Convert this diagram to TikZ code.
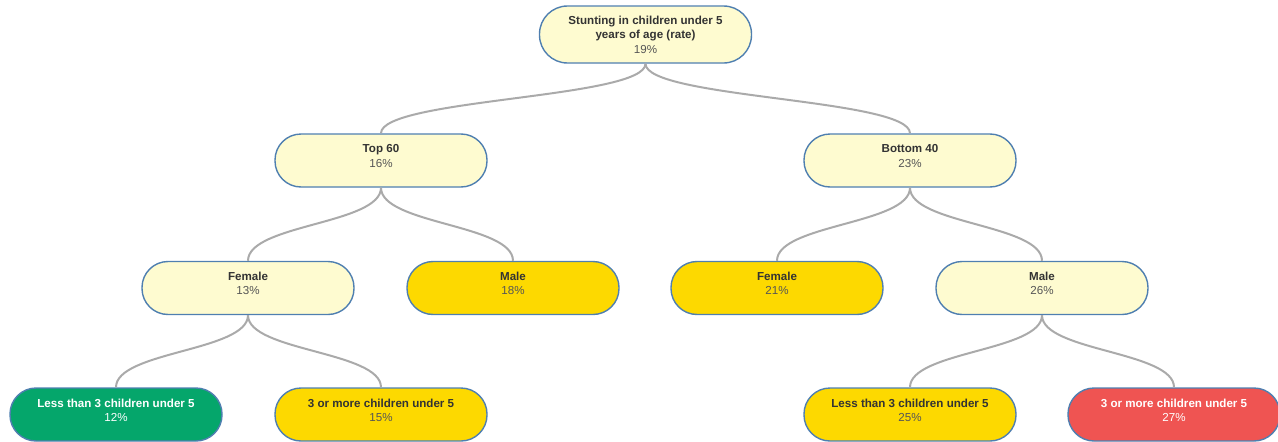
\documentclass[tikz,border=0pt]{standalone}
\usepackage{fontspec}
\setmainfont{Liberation Sans}
\usetikzlibrary{calc}

\definecolor{paleyellow}{HTML}{FEFBD0}
\definecolor{gold}{HTML}{FDD900}
\definecolor{goodgreen}{HTML}{05A66B}
\definecolor{badred}{HTML}{EF5452}
\definecolor{edgeblue}{HTML}{4F7FB0}
\definecolor{linkgray}{HTML}{AAAAAA}
\definecolor{titlegray}{HTML}{333333}
\definecolor{valuegray}{HTML}{555555}

\tikzset{
  pill/.style={draw=edgeblue, line width=1.4pt, rounded corners=26pt,
    minimum width=212pt, minimum height=53pt, align=center, inner sep=2pt,
    text depth=9pt, font=\fontsize{11.6}{14.2}\selectfont},
  neutral/.style={pill, fill=paleyellow},
  warn/.style={pill, fill=gold},
  good/.style={pill, fill=goodgreen, text=white},
  bad/.style={pill, fill=badred, text=white},
  link/.style={draw=linkgray, line width=2pt},
}
% vertical S-shaped tree link between two nodes
\newcommand{\treelink}[2]{%
  \path ($(#1.south)!0.5!(#2.north)$) coordinate (mid#1#2);
  \draw[link] (#1.south) .. controls (#1.south |- mid#1#2) and (#2.north |- mid#1#2) .. (#2.north);}

\begin{document}
\begin{tikzpicture}[x=1pt, y=-1pt]
\useasboundingbox (0,0) rectangle (1278,442);

% level 0
\node[neutral, minimum height=57pt, rounded corners=28pt, text depth=0pt,
  font=\fontsize{11.6}{14.6}\selectfont, text=titlegray] (root) at (645.5,34.5)
  {\textbf{Stunting in children under 5}\\\textbf{years of age (rate)}\\\textcolor{valuegray}{19\%}};

% level 1
\node[neutral, text=titlegray] (top) at (381,160.5) {\textbf{Top 60}\\\textcolor{valuegray}{16\%}};
\node[neutral, text=titlegray] (bottom) at (910,160.5) {\textbf{Bottom 40}\\\textcolor{valuegray}{23\%}};

% level 2
\node[neutral, text=titlegray] (tf) at (248,288) {\textbf{Female}\\\textcolor{valuegray}{13\%}};
\node[warn, text=titlegray] (tm) at (513,288) {\textbf{Male}\\\textcolor{valuegray}{18\%}};
\node[warn, text=titlegray] (bf) at (777,288) {\textbf{Female}\\\textcolor{valuegray}{21\%}};
\node[neutral, text=titlegray] (bm) at (1042,288) {\textbf{Male}\\\textcolor{valuegray}{26\%}};

% level 3
\node[good] (tfl) at (116,414.5) {\textbf{Less than 3 children under 5}\\12\%};
\node[warn, text=titlegray] (tfm) at (381,414.5) {\textbf{3 or more children under 5}\\\textcolor{valuegray}{15\%}};
\node[warn, text=titlegray] (bml) at (910,414.5) {\textbf{Less than 3 children under 5}\\\textcolor{valuegray}{25\%}};
\node[bad] (bmm) at (1174,414.5) {\textbf{3 or more children under 5}\\27\%};

% links
\treelink{root}{top}
\treelink{root}{bottom}
\treelink{top}{tf}
\treelink{top}{tm}
\treelink{bottom}{bf}
\treelink{bottom}{bm}
\treelink{tf}{tfl}
\treelink{tf}{tfm}
\treelink{bm}{bml}
\treelink{bm}{bmm}
\end{tikzpicture}
\end{document}
